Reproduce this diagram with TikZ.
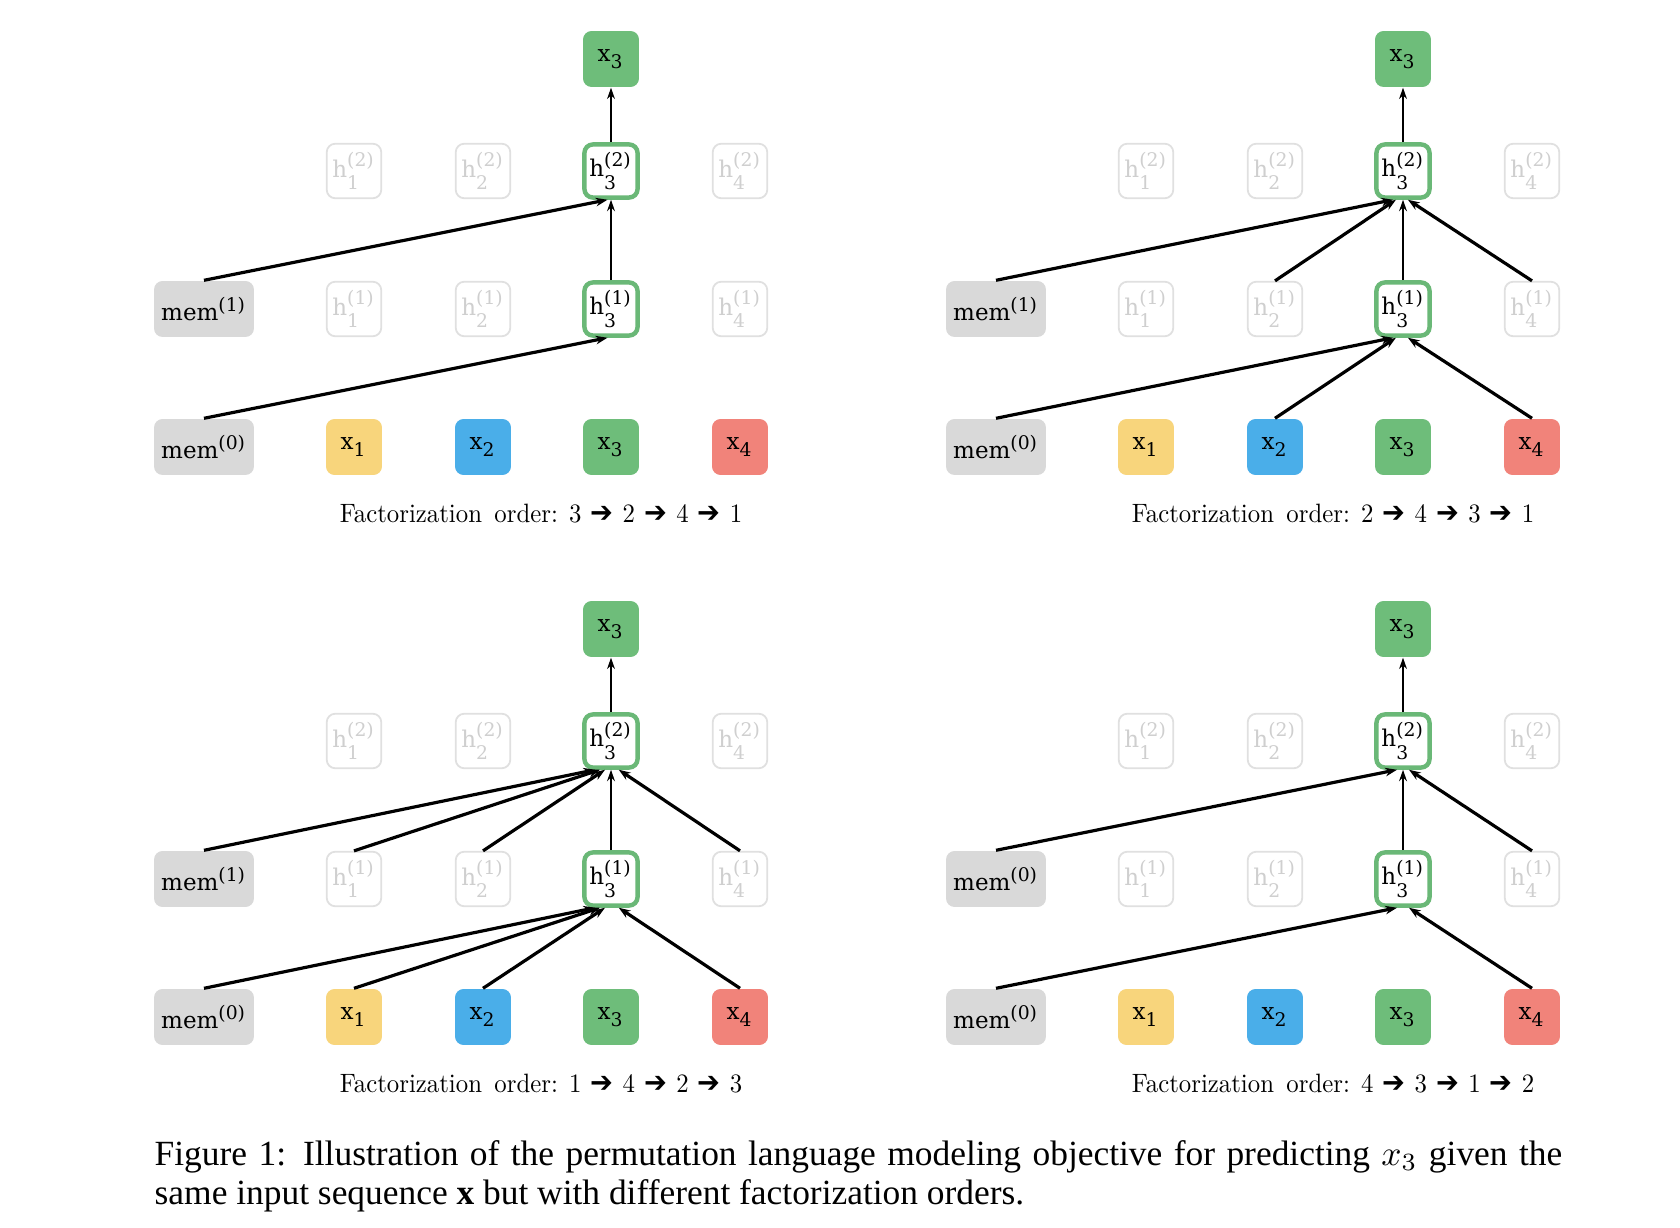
\documentclass[tikz,border=0pt]{standalone}
\usepackage{fontspec}
\usepackage{graphicx}
\usetikzlibrary{arrows.meta}
\newfontfamily\capfont{Liberation Serif}
\newfontfamily\lblfont{DejaVu Serif}
\newfontfamily\arrfont{DejaVu Sans}
\definecolor{memgray}{HTML}{D9D9D9}
\definecolor{cyellow}{HTML}{F8D57C}
\definecolor{cblue}{HTML}{4AAEE9}
\definecolor{cgreen}{HTML}{6EBD7A}
\definecolor{cred}{HTML}{F1837A}
\definecolor{hotgreen}{HTML}{6AB877}
\definecolor{faintline}{HTML}{E0E0E0}
\definecolor{fainttext}{HTML}{CFCFCF}
\newcommand{\sbf}[1]{\hbox{\lblfont\fontsize{5.3}{5.5}\selectfont #1}}
\newcommand{\hlab}[2]{h$_{\sbf{#1}}^{\sbf{(#2)}}$}
\newcommand{\xlab}[1]{x$_{\sbf{#1}}$}
\newcommand{\memlab}[1]{mem$^{\sbf{(#1)}}$}
\newcommand{\ordarrow}{\hspace{0.37em}{\arrfont\fontsize{11}{12}\selectfont\char"2794}\hspace{0.37em}}
\newcommand{\ordline}[4]{\scalebox{0.70}[0.75]{\fontsize{10}{12}\selectfont Factorization\hspace{0.5em}order:\hspace{0.45em}#1\ordarrow #2\ordarrow #3\ordarrow #4}}
\newcommand{\panel}[5]{%
  \begin{scope}[shift={(#2,#3)}]
    \node[xbox=cgreen] (#1-top) at (611,59) {\xlab{3}};
    \node[faint] (#1-h21) at (354,171) {\hlab{1}{2}};
    \node[faint] (#1-h22) at (483,171) {\hlab{2}{2}};
    \node[hot]   (#1-h23) at (611,171) {\hlab{3}{2}};
    \node[faint] (#1-h24) at (740,171) {\hlab{4}{2}};
    \node[memb]  (#1-m1)  at (204,309) {\memlab{#4}};
    \node[faint] (#1-h11) at (354,309) {\hlab{1}{1}};
    \node[faint] (#1-h12) at (483,309) {\hlab{2}{1}};
    \node[hot]   (#1-h13) at (611,309) {\hlab{3}{1}};
    \node[faint] (#1-h14) at (740,309) {\hlab{4}{1}};
    \node[memb]  (#1-m0)  at (204,447) {\memlab{0}};
    \node[xbox=cyellow] (#1-x1) at (354,447) {\xlab{1}};
    \node[xbox=cblue]   (#1-x2) at (483,447) {\xlab{2}};
    \node[xbox=cgreen]  (#1-x3) at (611,447) {\xlab{3}};
    \node[xbox=cred]    (#1-x4) at (740,447) {\xlab{4}};
    \node[ordtext] (#1-cap) at (541,523) {#5};
    \draw[arrv] (#1-h23.north) -- (#1-top.south);
    \draw[arrv] (#1-h13.north) -- (#1-h23.south);
  \end{scope}}
\begin{document}
\begin{tikzpicture}[x=0.2824pt,y=-0.2824pt,
  box/.style={rounded corners=2.4pt,minimum width=15.8pt,minimum height=15.8pt,
    inner sep=0pt,font=\lblfont\fontsize{6.5}{7}\selectfont},
  memb/.style={box,fill=memgray,minimum width=28.2pt},
  xbox/.style={box,fill=#1},
  faint/.style={box,draw=faintline,line width=0.5pt,text=fainttext,
    minimum width=15.4pt,minimum height=15.4pt},
  hot/.style={box,draw=hotgreen,line width=1.25pt,fill=white,
    minimum width=15pt,minimum height=15pt},
  arr/.style={-{Stealth[length=3.3pt,width=2.4pt]},line width=0.9pt},
  arrv/.style={-{Stealth[length=3.2pt,width=2.2pt]},line width=0.8pt},
  ordtext/.style={anchor=base,inner sep=0pt},
  figcap/.style={anchor=north west,inner sep=0pt,text width=397.5pt,align=justify,
    font=\capfont\fontsize{10}{11}\selectfont}]
\fill[white] (0,0) rectangle (1680,1228);
\useasboundingbox (0,0) rectangle (1680,1228);
\panel{A}{0}{0}{1}{\ordline{3}{2}{4}{1}}
\panel{B}{792}{0}{1}{\ordline{2}{4}{3}{1}}
\panel{C}{0}{570}{1}{\ordline{1}{4}{2}{3}}
\panel{D}{792}{570}{0}{\ordline{4}{3}{1}{2}}
% panel A
\draw[arr] (A-m1.north) -- ([xshift=-1pt]A-h23.south);
\draw[arr] (A-m0.north) -- ([xshift=-1pt]A-h13.south);
% panel B
\draw[arr] (B-m1.north)  -- ([xshift=-2.8pt]B-h23.south);
\draw[arr] (B-h12.north) -- ([xshift=-2pt]B-h23.south);
\draw[arr] (B-h14.north) -- ([xshift=1.4pt]B-h23.south);
\draw[arr] (B-m0.north)  -- ([xshift=-2.8pt]B-h13.south);
\draw[arr] (B-x2.north)  -- ([xshift=-2pt]B-h13.south);
\draw[arr] (B-x4.north)  -- ([xshift=1.4pt]B-h13.south);
% panel C
\draw[arr] (C-m1.north)  -- ([xshift=-4.5pt]C-h23.south);
\draw[arr] (C-h11.north) -- ([xshift=-3.1pt]C-h23.south);
\draw[arr] (C-h12.north) -- ([xshift=-1.7pt]C-h23.south);
\draw[arr] (C-h14.north) -- ([xshift=2.2pt]C-h23.south);
\draw[arr] (C-m0.north)  -- ([xshift=-4.5pt]C-h13.south);
\draw[arr] (C-x1.north)  -- ([xshift=-3.1pt]C-h13.south);
\draw[arr] (C-x2.north)  -- ([xshift=-1.7pt]C-h13.south);
\draw[arr] (C-x4.north)  -- ([xshift=2.2pt]C-h13.south);
% panel D
\draw[arr] (D-m1.north)  -- ([xshift=-1.7pt]D-h23.south);
\draw[arr] (D-h14.north) -- ([xshift=1.7pt]D-h23.south);
\draw[arr] (D-m0.north)  -- ([xshift=-1.7pt]D-h13.south);
\draw[arr] (D-x4.north)  -- ([xshift=1.7pt]D-h13.south);
\node[figcap] (caption) at (154,1140) {Figure 1: Illustration of the permutation language modeling objective for predicting $x_3$ given the\linebreak same input sequence \textbf{x} but with different factorization orders.};
\end{tikzpicture}
\end{document}
